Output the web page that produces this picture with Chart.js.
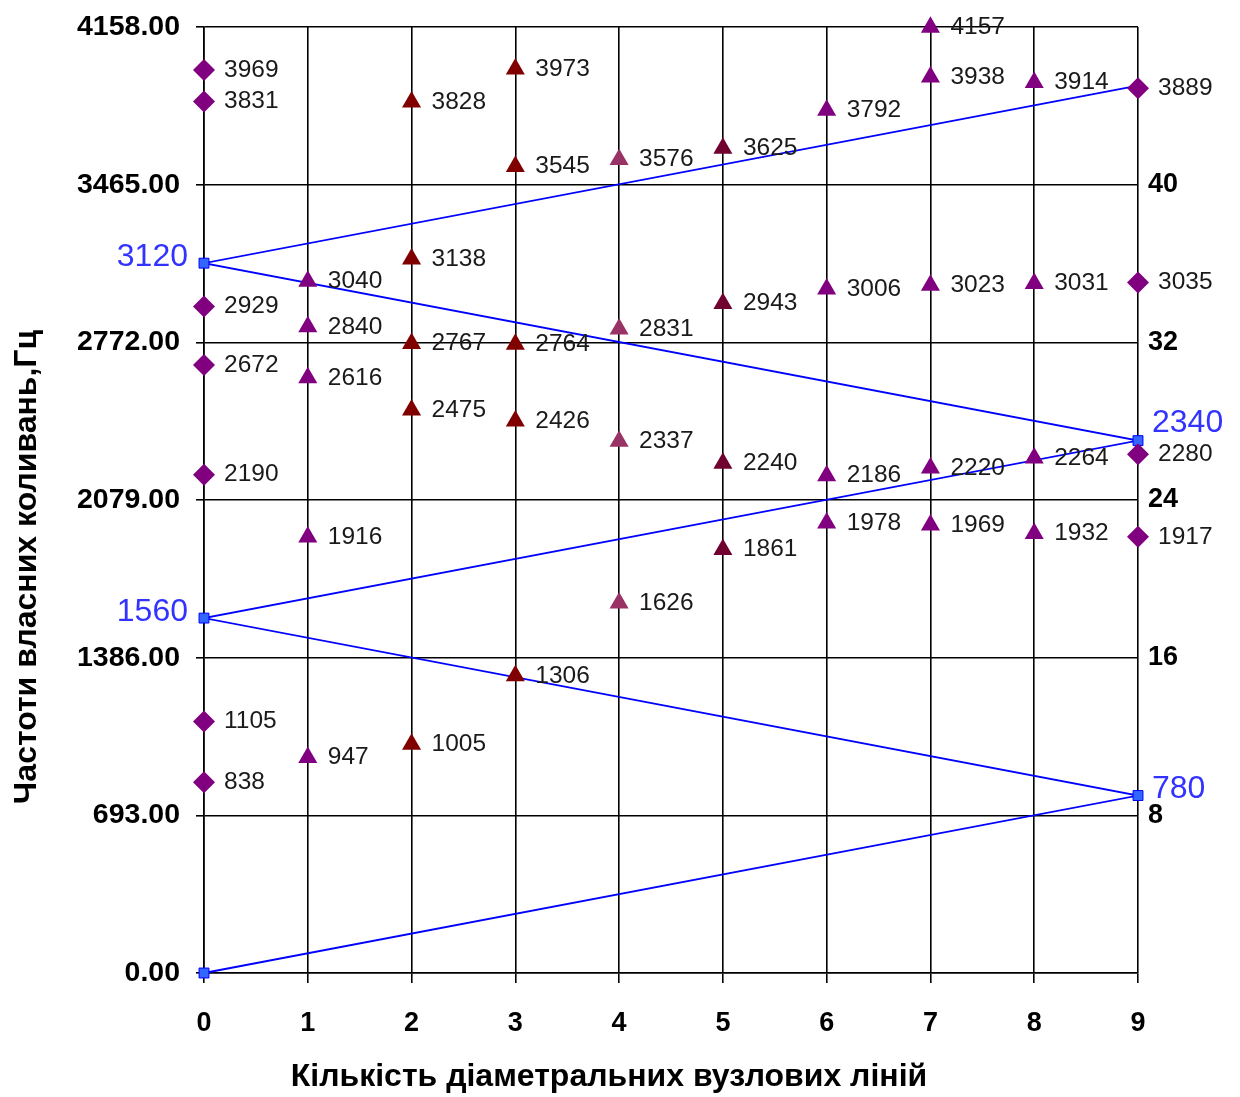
<!DOCTYPE html>
<html>
<head>
<meta charset="utf-8">
<script src="https://cdn.jsdelivr.net/npm/chart.js@4.4.1/dist/chart.umd.min.js"></script>
<style>
  body { margin: 0; background: #fff; }
  #wrap { width: 1240px; height: 1097px; }
</style>
</head>
<body>
<div id="wrap"><canvas id="freqChart" width="1240" height="1097"></canvas></div>
<script>
// number of diametral nodal lines
const nodeLines = [0, 1, 2, 3, 4, 5, 6, 7, 8, 9];

// measured frequencies for each column (Hz)
const col0 = [3969, 3831, 2929, 2672, 2190, 1105, 838];
const col1 = [3040, 2840, 2616, 1916, 947];
const col2 = [3828, 3138, 2767, 2475, 1005];
const col3 = [3973, 3545, 2764, 2426, 1306];
const col4 = [3576, 2831, 2337, 1626];
const col5 = [3625, 2943, 2240, 1861];
const col6 = [3792, 3006, 2186, 1978];
const col7 = [4157, 3938, 3023, 2220, 1969];
const col8 = [3914, 3031, 2264, 1932];
const col9 = [3889, 3035, 2280, 1917];

// zig-zag resonance line
const zigX = [0, 9, 0, 9, 0, 9];
const zigY = [0, 780, 1560, 2340, 3120, 3900];
const zigLabels = ["", "780", "1560", "2340", "3120", ""];

// axis ticks
const yTickStep = 693;
const yMax = 4158;
const rightTicks = [8, 16, 24, 32, 40];

const columns = [col0, col1, col2, col3, col4, col5, col6, col7, col8, col9];
const colColors = ["#800080", "#800080", "#800000", "#800000", "#993366",
                   "#700030", "#800080", "#800080", "#800080", "#800080"];

const datasets = columns.map((vals, i) => {
  const diamond = i === 0 || i === 9;
  return {
    type: "scatter",
    label: "n=" + nodeLines[i],
    data: vals.map(v => ({ x: nodeLines[i], y: v })),
    pointStyle: diamond ? "rectRot" : "triangle",
    pointRadius: 11,
    pointHoverRadius: 11,
    backgroundColor: colColors[i],
    borderColor: colColors[i],
    borderWidth: 0,
    showLine: false,
    clip: false,
    order: 0,
    numLabels: true
  };
});

datasets.push({
  type: "scatter",
  label: "zigzag",
  data: zigX.map((x, i) => ({ x: x, y: zigY[i] })),
  showLine: true,
  borderColor: "#0000FF",
  borderWidth: 1.8,
  backgroundColor: "#3366FF",
  pointBorderColor: "#0000FF",
  pointBorderWidth: 1,
  pointStyle: "rect",
  pointRadius: zigY.map((v, i) => i === zigY.length - 1 ? 0 : 7),
  clip: false,
  order: 1,
  zigLabels: zigLabels
});

// draws value labels next to markers
const pointLabels = {
  id: "pointLabels",
  afterDatasetsDraw(chart) {
    const ctx = chart.ctx;
    ctx.save();
    chart.data.datasets.forEach((ds, di) => {
      const meta = chart.getDatasetMeta(di);
      if (ds.numLabels) {
        ctx.font = "24.5px Arial, 'Liberation Sans', sans-serif";
        ctx.fillStyle = "#1a1a1a";
        ctx.textAlign = "left";
        ctx.textBaseline = "middle";
        meta.data.forEach((el, k) => {
          ctx.fillText(String(ds.data[k].y), el.x + 20, el.y);
        });
      }
      if (ds.zigLabels) {
        ctx.font = "32px Arial, 'Liberation Sans', sans-serif";
        ctx.fillStyle = "#3333FF";
        ctx.textBaseline = "middle";
        meta.data.forEach((el, k) => {
          const t = ds.zigLabels[k];
          if (!t) return;
          if (ds.data[k].x === 0) {
            ctx.textAlign = "right";
            ctx.fillText(t, el.x - 16, el.y - 6);
          } else {
            ctx.textAlign = "left";
            ctx.fillText(t, el.x + 14, el.y - (t === "2340" ? 17 : 6));
          }
        });
      }
    });
    ctx.restore();
  }
};

// axis titles, placed like the original sheet
const axisTitles = {
  id: "axisTitles",
  afterDraw(chart) {
    const ctx = chart.ctx;
    ctx.save();
    ctx.font = "bold 32px Arial, 'Liberation Sans', sans-serif";
    ctx.fillStyle = "#000";
    ctx.textAlign = "center";
    ctx.textBaseline = "middle";
    ctx.fillText("Кількість діаметральних вузлових ліній", 609, 1077);
    ctx.translate(27, 567);
    ctx.rotate(-Math.PI / 2);
    ctx.fillText("Частоти власних коливань,Гц", 0, 0);
    ctx.restore();
  }
};

const boldTick = { family: "Arial, 'Liberation Sans', sans-serif", size: 27, weight: "bold" };
const boldTickY = { family: "Arial, 'Liberation Sans', sans-serif", size: 28.5, weight: "bold" };

new Chart(document.getElementById("freqChart"), {
  type: "scatter",
  data: { datasets },
  options: {
    responsive: false,
    animation: false,
    devicePixelRatio: 1,
    layout: { padding: { top: 27, left: 0, right: 0, bottom: 0 } },
    plugins: {
      legend: { display: false },
      tooltip: { enabled: false }
    },
    scales: {
      x: {
        type: "linear",
        min: 0,
        max: 9,
        ticks: { stepSize: 1, color: "#000", font: boldTick, padding: 24 },
        grid: { color: "#000", lineWidth: 1.6, tickLength: 10, tickColor: "#000" },
        border: { color: "#000", width: 1.6 },
        afterFit(scale) {
          scale.height = 124;
          scale.paddingLeft = 0;
          scale.paddingRight = 0;
        }
      },
      y: {
        type: "linear",
        min: 0,
        max: yMax,
        ticks: {
          stepSize: yTickStep,
          color: "#000",
          font: boldTickY,
          padding: 16,
          callback: v => Number(v).toFixed(2)
        },
        grid: { color: "#000", lineWidth: 1.6, tickLength: 8, tickColor: "#000" },
        border: { color: "#000", width: 1.6 },
        afterFit(scale) {
          scale.width = 204;
          scale.paddingTop = 0;
          scale.paddingBottom = 0;
        }
      },
      y2: {
        type: "linear",
        position: "right",
        min: 0,
        max: 48,
        afterBuildTicks(scale) {
          scale.ticks = rightTicks.map(v => ({ value: v }));
        },
        ticks: { color: "#000", font: boldTick, padding: 2 },
        grid: { display: false },
        border: { display: false },
        afterFit(scale) {
          scale.width = 102;
          scale.paddingTop = 0;
          scale.paddingBottom = 0;
        }
      }
    }
  },
  plugins: [pointLabels, axisTitles]
});
</script>
</body>
</html>
